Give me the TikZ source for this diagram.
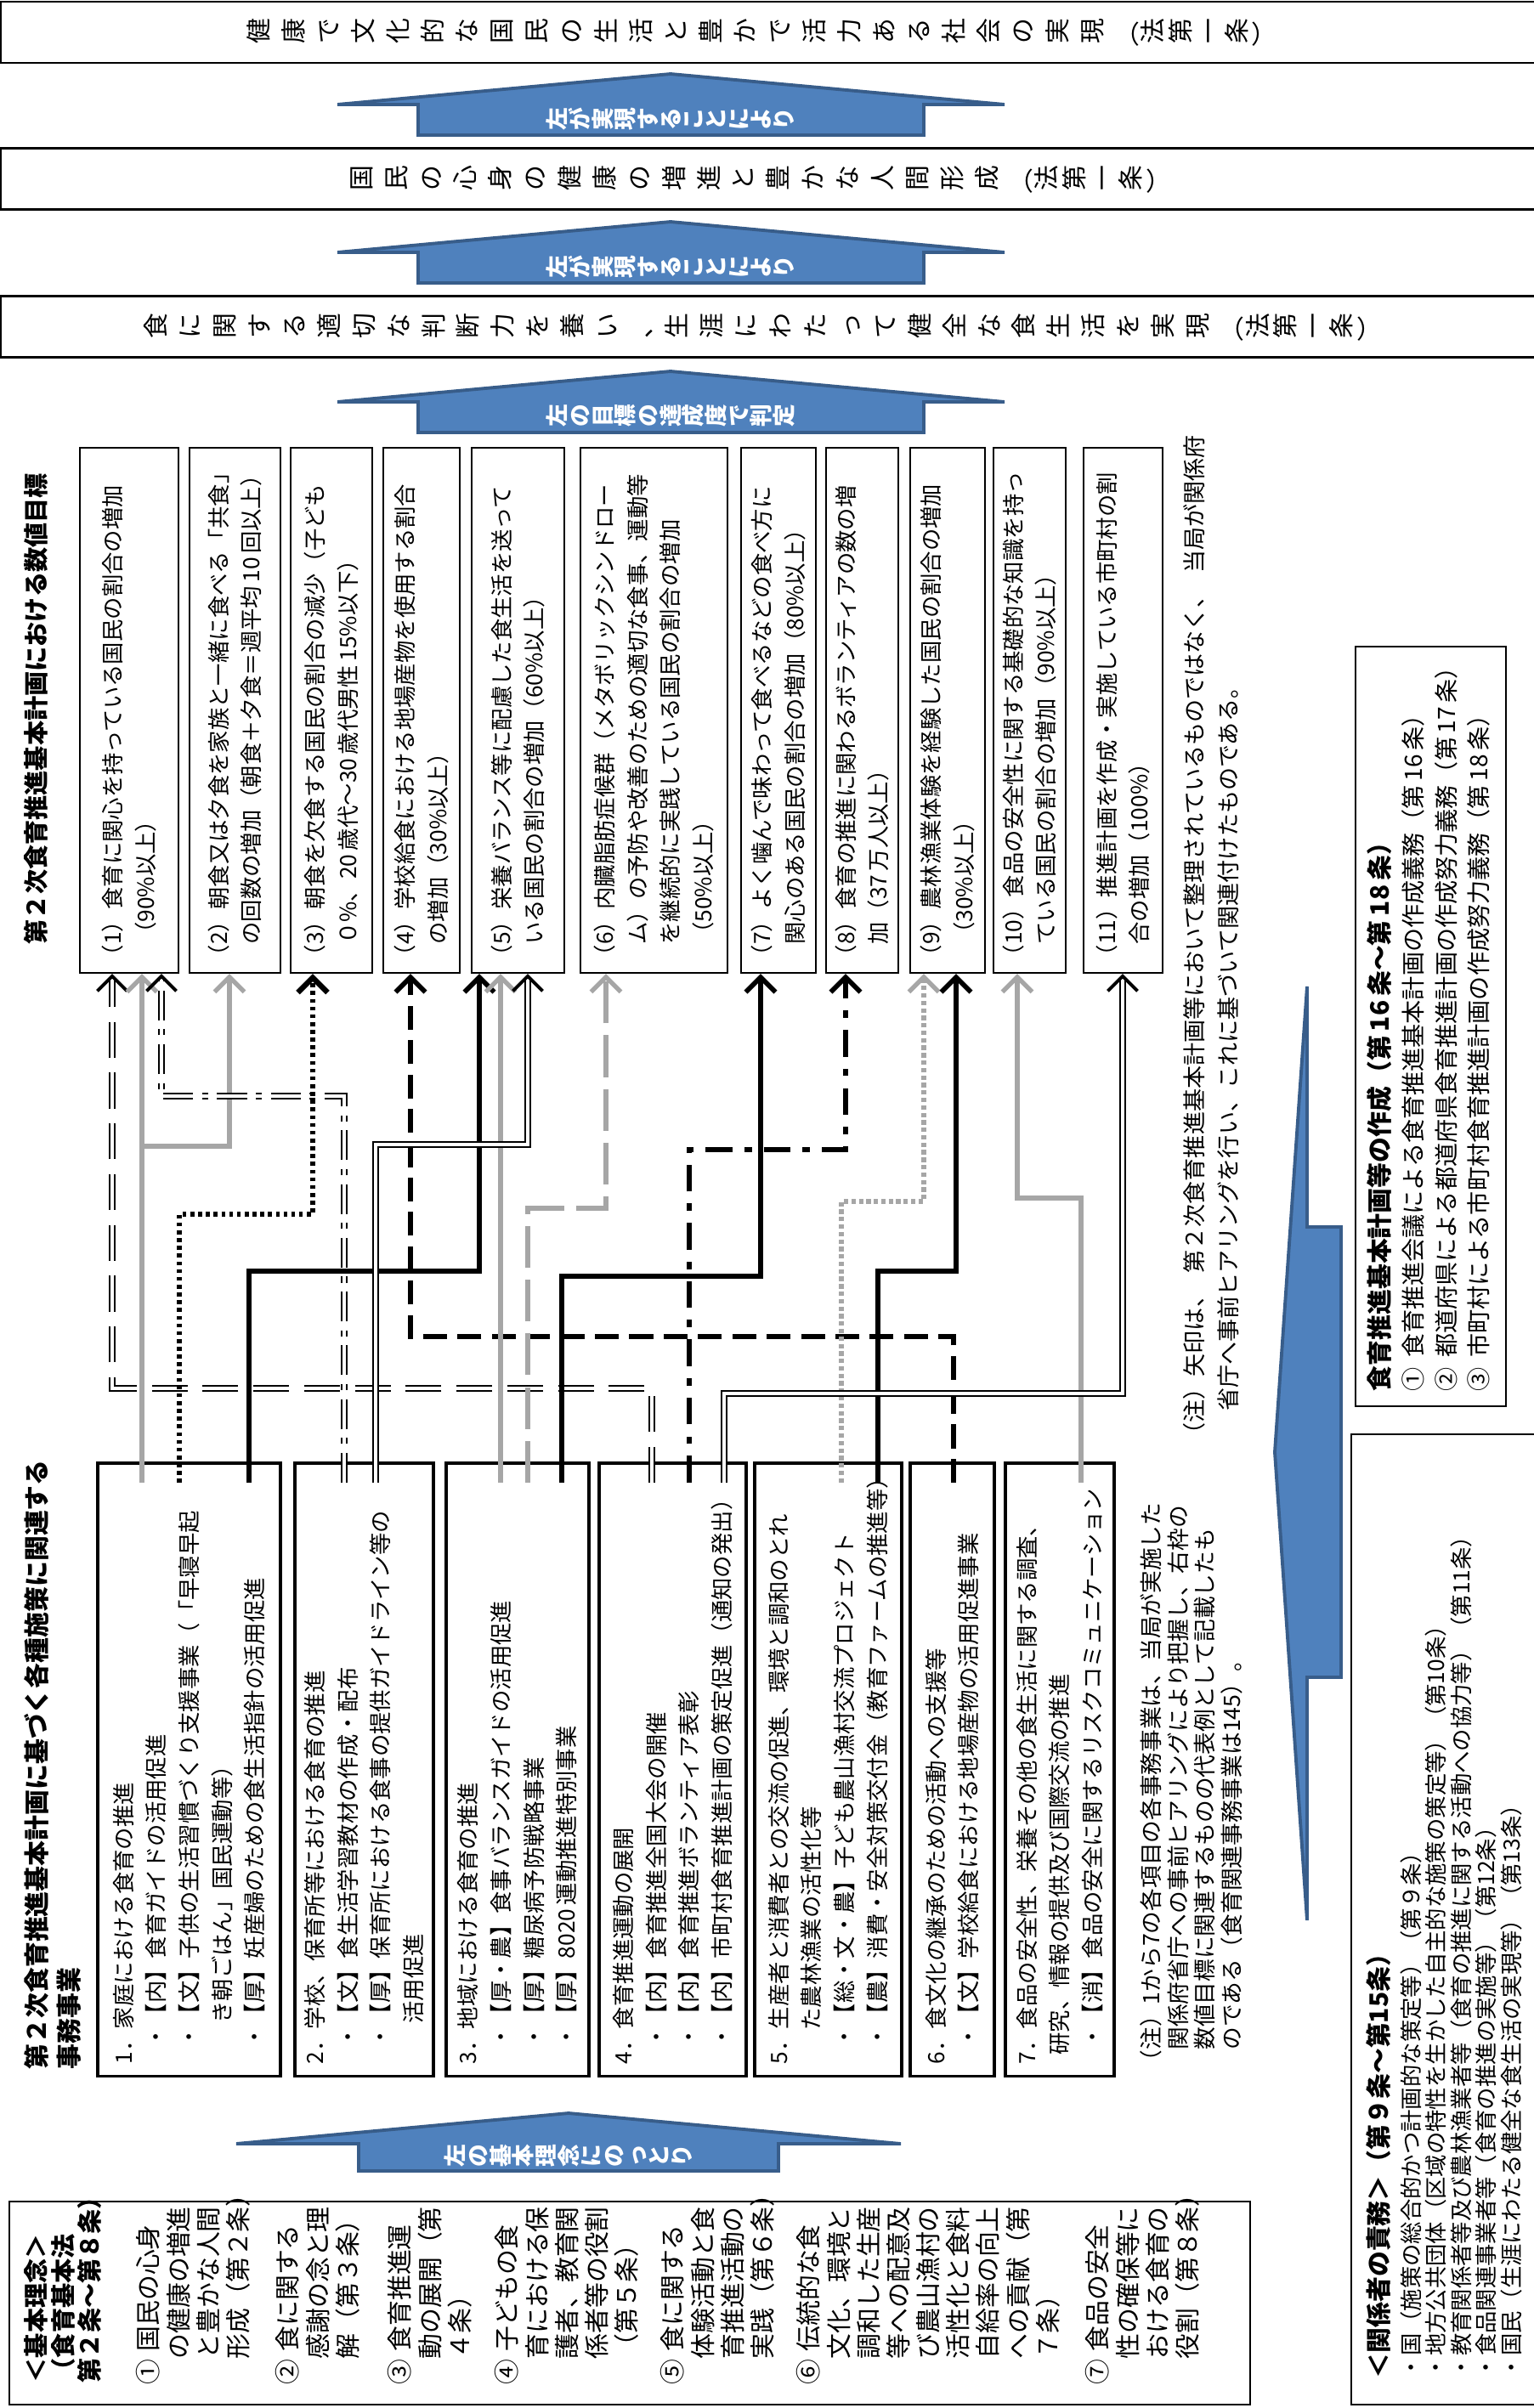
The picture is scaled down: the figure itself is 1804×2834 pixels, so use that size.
\documentclass[tikz,border=0pt]{standalone}
\usepackage{fontspec}
\setmainfont{Noto Sans CJK JP}
\usepackage{graphicx}
\usetikzlibrary{arrows.meta}

\definecolor{arrowblue}{HTML}{4F81BD}
\definecolor{arrowedge}{HTML}{385D8A}
\definecolor{linegray}{HTML}{A6A6A6}

\newcommand\fsz[2]{\fontsize{#1}{#2}\selectfont}
\newlength\vgap
\newcommand\vtext[1]{\vtextstep#1\relax}
\newcommand\vtextstep[1]{\ifx\relax#1\else\rotatebox{90}{\rule[-.12em]{0pt}{1em}#1}\hspace{\vgap}\expandafter\vtextstep\fi}
\newcommand\lawline[2]{\fsz{8.5pt}{10pt}\setlength\vgap{1.1mm}\vtext{#1}\setlength\vgap{.3mm}（\vtext{#2}）}

\tikzset{
  lawbox/.style={draw, line width=0.8pt, minimum width=181.8mm, minimum height=7.2mm, inner sep=0pt},
  bluearrow/.style={fill=arrowblue, draw=arrowedge, line width=1.1pt, line join=miter},
  arrowtext/.style={inner sep=0pt, text=white, font=\bfseries\fsz{7.6pt}{8pt}},
  goalbox/.style={draw, line width=0.6pt, rotate=90, inner xsep=2pt, inner ysep=2pt,
    minimum width=61.8mm, text width=60.4mm, align=left, font=\fsz{7.5pt}{11pt}},
  workbox/.style={draw, line width=0.9pt, rotate=90, inner xsep=4pt, inner ysep=2pt,
    minimum width=72.1mm, text width=69.3mm, align=left, font=\fsz{7.5pt}{11pt}},
  sidetext/.style={rotate=90, anchor=north west, inner sep=0pt, align=left},
  outerbox/.style={draw, line width=0.6pt, inner sep=0pt},
  lnblack/.style={line width=1.6pt, -{Straight Barb[length=5pt,width=10pt]}},
  lngray/.style={draw=linegray, line width=1.5pt, -{Straight Barb[length=5pt,width=10pt]}},
  lndouble/.style={double, double distance=1.3pt, line width=0.55pt,
    -{Straight Barb[length=5pt,width=10pt,line width=1.1pt]}},
}

\begin{document}
\begin{tikzpicture}[x=0.1mm, y=-0.1mm]
\useasboundingbox (0,0) rectangle (1804,2834);

% aims of the law
\node[lawbox] (lawa) at (910,38) {};
\node[lawbox] (lawb) at (910,210.5) {};
\node[lawbox] (lawc) at (910,384.5) {};
\node[inner sep=0pt] (lawatext) at (896,38) {\lawline{健康で文化的な国民の生活と豊かで活力ある社会の実現}{法第一条}};
\node[inner sep=0pt] (lawbtext) at (894,210.5) {\lawline{国民の心身の健康の増進と豊かな人間形成}{法第一条}};
\node[inner sep=0pt] (lawctext) at (897,384.5) {\lawline{食に関する適切な判断力を養い、生涯にわたって健全な食生活を実現}{法第一条}};

\foreach \ay in {87,261,437}
  \draw[bluearrow] (397,\ay+36) -- (789,\ay) -- (1182,\ay+36) -- (1087,\ay+36)
    -- (1087,\ay+72) -- (492,\ay+72) -- (492,\ay+36) -- cycle;
\node[arrowtext] (upa) at (789,140) {\vtext{左が実現することにより}};
\node[arrowtext] (upb) at (789,314) {\vtext{左が実現することにより}};
\node[arrowtext] (upc) at (789,489) {\vtext{左の目標の達成度で判定}};

% numerical targets
\node[sidetext, font=\bfseries\fsz{8.3pt}{10pt}] (goaltitle) at (28,1112) {第２次食育推進基本計画における数値目標};
\node[goalbox, minimum height=11.6mm] (t1) at (152,836) {（1）食育に関心を持っている国民の割合の増加\\\hspace*{1em}（90\%以上）};
\node[goalbox, minimum height=10.7mm] (t2) at (276.5,836) {（2）朝食又は夕食を家族と一緒に食べる「共食」\\\hspace*{1em}の回数の増加（朝食＋夕食＝週平均\,10\,回以上）};
\node[goalbox, minimum height=9.6mm] (t3) at (390,836) {（3）朝食を欠食する国民の割合の減少（子ども\\\hspace*{1em}０\%、20\,歳代～30\,歳代男性\,15\%以下）};
\node[goalbox, minimum height=9mm] (t4) at (496,836) {（4）学校給食における地場産物を使用する割合\\\hspace*{1em}の増加（30\%以上）};
\node[goalbox, minimum height=10.9mm] (t5) at (609.5,836) {（5）栄養バランス等に配慮した食生活を送って\\\hspace*{1em}いる国民の割合の増加（60\%以上）};
\node[goalbox, minimum height=17.3mm] (t6) at (769.5,836) {（6）内臓脂肪症候群（メタボリックシンドロー\\\hspace*{1em}ム）の予防や改善のための適切な食事、運動等\\\hspace*{1em}を継続的に実践している国民の割合の増加\\\hspace*{1em}（50\%以上）};
\node[goalbox, minimum height=8.8mm] (t7) at (916,836) {（7）よく噛んで味わって食べるなどの食べ方に\\\hspace*{1em}関心のある国民の割合の増加（80\%以上）};
\node[goalbox, minimum height=8.5mm] (t8) at (1014.5,836) {（8）食育の推進に関わるボランティアの数の増\\\hspace*{1em}加（37\,万人以上）};
\node[goalbox, minimum height=8.8mm] (t9) at (1115,836) {（9）農林漁業体験を経験した国民の割合の増加\\\hspace*{1em}（30\%以上）};
\node[goalbox, minimum height=8.5mm] (t10) at (1211.5,836) {（10）食品の安全性に関する基礎的な知識を持っ\\\hspace*{1em}ている国民の割合の増加（90\%以上）};
\node[goalbox, minimum height=9.3mm] (t11) at (1321.5,836) {（11）推進計画を作成・実施している市町村の割\\\hspace*{1em}合の増加（100\%）};

\node[sidetext, font=\fsz{7.7pt}{11.4pt}] (arrownote) at (1392,1702) {（注）矢印は、\hspace{.5em}第２次食育推進基本計画等において整理されているものではなく、\hspace{.5em}当局が関係府\\\hspace*{1.5em}省庁へ事前ヒアリングを行い、これに基づいて関連付けたものである。};

% plans of prefectures and municipalities
\node[outerbox, minimum width=17.7mm, minimum height=89.4mm] (plan) at (1683.5,1208) {};
\node[sidetext, font=\fsz{8pt}{11pt}] (plantext) at (1608,1638) {{\bfseries\fsz{8.5pt}{11pt}食育推進基本計画等の作成（第\,16\,条～第\,18\,条）}\\
①\hspace{.4em}食育推進会議による食育推進基本計画の作成義務（第\,16\,条）\\
②\hspace{.4em}都道府県による都道府県食育推進計画の作成努力義務（第\,17\,条）\\
③\hspace{.4em}市町村による市町村食育推進計画の作成努力義務（第\,18\,条）};
\draw[bluearrow] (1500,1709) -- (1538,1161) -- (1538,1444) -- (1578,1444) -- (1578,1974)
  -- (1538,1974) -- (1538,2260) -- cycle;

% measures and works
\node[sidetext, font=\bfseries\fsz{8.5pt}{10.8pt}] (worktitle) at (28,2436) {第２次食育推進基本計画に基づく各種施策に関連する\\事務事業};
\node[workbox, minimum height=21.5mm] (j1) at (222.5,2082.5) {1．家庭における食育の推進\\
\hspace*{.7em}・【内】食育ガイドの活用促進\\
\hspace*{.7em}・【文】子供の生活習慣づくり支援事業（「早寝早起\\
\hspace*{1.8em}き朝ごはん」国民運動等）\\
\hspace*{.7em}・【厚】妊産婦のための食生活指針の活用促進};
\node[workbox, minimum height=16.3mm] (j2) at (428.5,2082.5) {2．学校、保育所等における食育の推進\\
\hspace*{.7em}・【文】食生活学習教材の作成・配布\\
\hspace*{.7em}・【厚】保育所における食事の提供ガイドライン等の\\
\hspace*{1.8em}活用促進};
\node[workbox, minimum height=16.8mm] (j3) at (609,2082.5) {3．地域における食育の推進\\
\hspace*{.7em}・【厚・農】食事バランスガイドの活用促進\\
\hspace*{.7em}・【厚】糖尿病予防戦略事業\\
\hspace*{.7em}・【厚】8020\,運動推進特別事業};
\node[workbox, minimum height=17.3mm] (j4) at (791.5,2082.5) {4．食育推進運動の展開\\
\hspace*{.7em}・【内】食育推進全国大会の開催\\
\hspace*{.7em}・【内】食育推進ボランティア表彰\\
\hspace*{.7em}・【内】市町村食育推進計画の策定促進（通知の発出）};
\node[workbox, minimum height=17.3mm] (j5) at (974.5,2082.5) {5．生産者と消費者との交流の促進、環境と調和のとれ\\
\hspace*{1.5em}た農林漁業の活性化等\\
\hspace*{.7em}・【総・文・農】子ども農山漁村交流プロジェクト\\
\hspace*{.7em}・【農】消費・安全対策交付金（教育ファームの推進等）};
\node[workbox, minimum height=9.9mm] (j6) at (1120.5,2082.5) {6．食文化の継承のための活動への支援等\\
\hspace*{.7em}・【文】学校給食における地場産物の活用促進事業};
\node[workbox, minimum height=12.8mm] (j7) at (1247,2082.5) {7．食品の安全性、栄養その他の食生活に関する調査、\\
\hspace*{.4em}研究、情報の提供及び国際交流の推進\\
\hspace*{.7em}・【消】食品の安全に関するリスクコミュニケーション};
\node[sidetext, font=\fsz{7.6pt}{9pt}] (worknote) at (1341,2440) {（注）1から7の各項目の各事務事業は、当局が実施した\\
\hspace*{1em}関係府省庁への事前ヒアリングにより把握し、右枠の\\
\hspace*{1em}数値目標に関連するものの代表例として記載したも\\
\hspace*{1em}のである（食育関連事務事業は145）。};

% connectors from measures to targets
\coordinate (grayfork) at (167,1349);
\draw[lndouble, dash pattern=on 12pt off 5pt] ([yshift=-7pt]j4.east -| 767,0) |- (132,1634) -- (t1.west -| 132,0);
\draw[lngray] ([yshift=-7pt]j1.east -| 167,0) -- (t1.west -| 167,0);
\draw[lngray] (grayfork) -| (t2.west -| 270,0);
\draw[lndouble, dash pattern=on 10pt off 3pt on 2pt off 3pt] ([yshift=-7pt]j2.east -| 405,0) |- (190,1290) -- (t1.west -| 190,0);
\draw[lnblack, line width=1.8pt, dash pattern=on 1.3pt off 1.3pt] ([yshift=-7pt]j1.east -| 211,0) |- (368,1429) -- (t3.west -| 368,0);
\draw[lnblack, dash pattern=on 8pt off 3.5pt] ([yshift=-7pt]j6.east -| 1122,0) |- (483,1573) -- (t4.west -| 483,0);
\draw[lnblack] ([yshift=-7pt]j1.east -| 293,0) |- (564,1496) -- (t5.west -| 564,0);
\draw[lngray] ([yshift=-7pt]j3.east -| 589,0) -- (t5.west -| 589,0);
\draw[lndouble] ([yshift=-7pt]j2.east -| 442,0) |- (621,1347) -- (t5.west -| 621,0);
\draw[lngray, dash pattern=on 14pt off 4pt] ([yshift=-7pt]j3.east -| 621,0) |- (713,1422) -- (t6.west -| 713,0);
\draw[lnblack] ([yshift=-7pt]j3.east -| 661,0) |- (895,1502) -- (t7.west -| 895,0);
\draw[lnblack, dash pattern=on 9pt off 4pt on 2.5pt off 4pt] ([yshift=-7pt]j4.east -| 811,0) |- (995,1353) -- (t8.west -| 995,0);
\draw[lngray, dash pattern=on 1.5pt off 1pt] ([yshift=-7pt]j5.east -| 990,0) |- (1087,1414) -- (t9.west -| 1087,0);
\draw[lnblack] ([yshift=-7pt]j5.east -| 1033,0) |- (1125,1496) -- (t9.west -| 1125,0);
\draw[lngray] ([yshift=-7pt]j7.east -| 1272,0) |- (1197,1410) -- (t10.west -| 1197,0);
\draw[lndouble] ([yshift=-7pt]j4.east -| 852,0) |- (1321,1640) -- (t11.west -| 1321,0);

% basic principles
\draw[bluearrow] (278,2523) -- (669,2487) -- (1060,2523) -- (916,2523) -- (916,2555)
  -- (422,2555) -- (422,2523) -- cycle;
\node[arrowtext] (upd) at (669,2537) {\vtext{左の基本理念にのっとり}};
\node[outerbox, minimum width=146mm, minimum height=23.9mm] (kihon) at (741,2710.5) {};
\node[sidetext, font=\bfseries\fsz{8.3pt}{9pt}] (kihontitle) at (28,2805) {＜基本理念＞\\（食育基本法\\第２条～第８条）};
\node[sidetext, font=\fsz{8.5pt}{10pt}] (ri1) at (160,2807) {①\hspace{.3em}国民の心身\\\hspace*{1em}の健康の増進\\\hspace*{1em}と豊かな人間\\\hspace*{1em}形成（第２条）};
\node[sidetext, font=\fsz{8.5pt}{10pt}] (ri2) at (324,2807) {②\hspace{.3em}食に関する\\\hspace*{1em}感謝の念と理\\\hspace*{1em}解（第３条）};
\node[sidetext, font=\fsz{8.5pt}{10pt}] (ri3) at (456,2807) {③\hspace{.3em}食育推進運\\\hspace*{1em}動の展開（第\\\hspace*{1em}４条）};
\node[sidetext, font=\fsz{8.5pt}{10pt}] (ri4) at (582,2807) {④\hspace{.3em}子どもの食\\\hspace*{1em}育における保\\\hspace*{1em}護者、教育関\\\hspace*{1em}係者等の役割\\\hspace*{1em}（第５条）};
\node[sidetext, font=\fsz{8.5pt}{10pt}] (ri5) at (777,2807) {⑤\hspace{.3em}食に関する\\\hspace*{1em}体験活動と食\\\hspace*{1em}育推進活動の\\\hspace*{1em}実践（第６条）};
\node[sidetext, font=\fsz{8.5pt}{10pt}] (ri6) at (937,2807) {⑥\hspace{.3em}伝統的な食\\\hspace*{1em}文化、環境と\\\hspace*{1em}調和した生産\\\hspace*{1em}等への配意及\\\hspace*{1em}び農山漁村の\\\hspace*{1em}活性化と食料\\\hspace*{1em}自給率の向上\\\hspace*{1em}への貢献（第\\\hspace*{1em}７条）};
\node[sidetext, font=\fsz{8.5pt}{10pt}] (ri7) at (1277,2807) {⑦\hspace{.3em}食品の安全\\\hspace*{1em}性の確保等に\\\hspace*{1em}おける食育の\\\hspace*{1em}役割（第８条）};

% duties of the parties
\node[outerbox, minimum width=23mm, minimum height=114.2mm] (duty) at (1705,2259) {};
\node[sidetext, font=\fsz{7.5pt}{8.4pt}] (dutytext) at (1607,2800) {{\bfseries\fsz{8.5pt}{8.4pt}＜関係者の責務＞（第９条～第15条）}\\[2pt]
・国（施策の総合的かつ計画的な策定等）（第９条）\\
・地方公共団体（区域の特性を生かした自主的な施策の策定等）（第10条）\\
・教育関係者等及び農林漁業者等（食育の推進に関する活動への協力等）（第11条）\\
・食品関連事業者等（食育の推進の実施等）（第12条）\\
・国民（生涯にわたる健全な食生活の実現等）（第13条）};
\end{tikzpicture}
\end{document}
